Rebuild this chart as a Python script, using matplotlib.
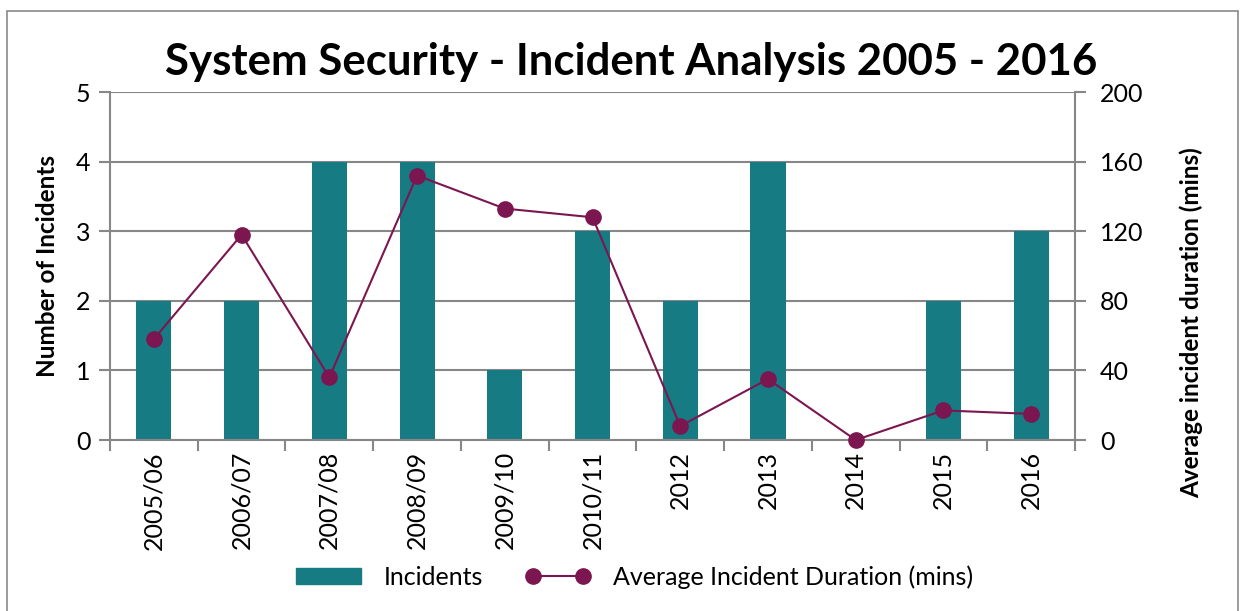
import matplotlib.pyplot as plt
from matplotlib.patches import Rectangle
from matplotlib.lines import Line2D
from matplotlib.patches import Patch

# data
periods = ["2005/06", "2006/07", "2007/08", "2008/09", "2009/10", "2010/11",
           "2012", "2013", "2014", "2015", "2016"]
incidents = [2, 2, 4, 4, 1, 3, 2, 4, 0, 2, 3]
avg_duration = [58, 118, 36, 152, 133, 128, 8, 35, 0, 17, 15]

teal = "#177B84"
maroon = "#7B1650"
grid_grey = "#878787"

plt.rcParams['font.family'] = ['Lato', 'DejaVu Sans']

fig = plt.figure(figsize=(12.44, 6.11), dpi=100)
fig.patches.append(Rectangle((7 / 1244, -0.1), 1231 / 1244, 1 - 11 / 611 + 0.1,
                             transform=fig.transFigure, fill=False,
                             edgecolor="#8a8a8a", linewidth=1.2))

ax = fig.add_axes([110 / 1244, 1 - 440 / 611, 965 / 1244, 348 / 611])
x = list(range(len(periods)))
ax.bar(x, incidents, width=0.4, color=teal, zorder=2)
ax.set_xlim(-0.5, len(periods) - 0.5)
ax.set_ylim(0, 5)
ax.set_yticks(range(6))
ax.yaxis.grid(True, color=grid_grey, linewidth=1.5, zorder=0)
ax.set_axisbelow(True)
ax.set_xticks([i - 0.5 for i in range(len(periods) + 1)], minor=False)
ax.set_xticklabels([])
ax.set_xticks(x, minor=True)
ax.set_xticklabels(periods, minor=True, rotation=90, fontsize=18)
ax.tick_params(axis='x', which='major', length=8, color=grid_grey, width=1.5)
ax.tick_params(axis='x', which='minor', length=0, pad=8)
ax.tick_params(axis='y', length=8, color=grid_grey, width=1.5, labelsize=18, pad=6)
for s in ['top', 'right']:
    ax.spines[s].set_visible(False)
for s in ['left', 'bottom']:
    ax.spines[s].set_color(grid_grey)
    ax.spines[s].set_linewidth(1.5)
ax.set_ylabel("Number of Incidents", fontsize=17.5, fontweight='bold')
ax.yaxis.set_label_coords(-0.053, 0.5)

ax2 = ax.twinx()
ax2.plot(x, avg_duration, color=maroon, linewidth=1.5, marker='o',
         markersize=11, zorder=3, clip_on=False)
ax2.set_ylim(0, 200)
ax2.set_yticks(range(0, 201, 40))
ax2.tick_params(axis='y', length=8, color=grid_grey, width=1.5, labelsize=18, pad=10)
for s in ['top', 'left', 'bottom']:
    ax2.spines[s].set_visible(False)
ax2.spines['right'].set_color(grid_grey)
ax2.spines['right'].set_linewidth(1.5)
ax2.set_ylabel("Average incident duration (mins)", fontsize=17.5, fontweight='bold')
ax2.yaxis.set_label_coords(1.108, 0.336)

fig.text(631 / 1244, 1 - 62 / 611, "System Security - Incident Analysis 2005 - 2016",
         ha='center', va='center', fontsize=31.5, fontweight='bold')

handles = [Patch(color=teal),
           Line2D([], [], color=maroon, marker='o', markersize=11, linewidth=1.5)]
fig.legend(handles, ["Incidents", "Average Incident Duration (mins)"],
           loc='center', bbox_to_anchor=(635 / 1244, 1 - 577 / 611), ncol=2,
           frameon=False, fontsize=18, handlelength=2.6, handleheight=0.6,
           handletextpad=0.9, columnspacing=1.7, numpoints=2)

fig.savefig("out.png", dpi=100)
